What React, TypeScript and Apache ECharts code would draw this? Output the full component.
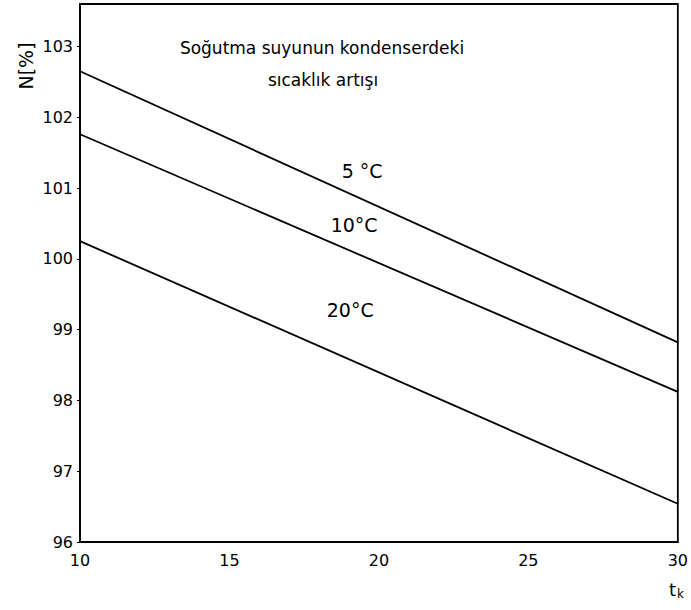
import React, { useEffect, useRef } from "react";
import * as echarts from "echarts";

const xTicks = [10, 15, 20, 25, 30];
const yTicks = [96, 97, 98, 99, 100, 101, 102, 103];
const tempX = [10, 30];
const series5 = [102.65, 98.82];
const series10 = [101.76, 98.12];
const series20 = [100.25, 96.54];
const seriesNames = ["5 °C", "10°C", "20°C"];
const labelCoords = [
  [19.44, 101.24],
  [19.17, 100.48],
  [19.04, 99.28],
];
const titleLines = ["Soğutma suyunun kondenserdeki", "sıcaklık artışı"];

const FONT = "DejaVu Sans";

export default function App() {
  const ref = useRef<HTMLDivElement>(null);
  useEffect(() => {
    if (!ref.current) return;
    const chart = echarts.init(ref.current, null, { renderer: "svg" });
    const all = [series5, series10, series20];
    chart.setOption({
      animation: false,
      backgroundColor: "#fff",
      grid: {
        left: 80,
        right: 6,
        top: 4,
        bottom: 68,
        show: true,
        borderColor: "#000",
        borderWidth: 1.8,
      },
      xAxis: {
        type: "value",
        min: 10,
        max: 30,
        interval: 5,
        axisLine: { show: true, lineStyle: { color: "#000", width: 1.8 } },
        axisTick: { show: false },
        splitLine: { show: false },
        axisLabel: {
          color: "#000",
          fontFamily: FONT,
          fontSize: 16,
          margin: 10,
          formatter: (v: number) => (xTicks.includes(v) ? String(v) : ""),
        },
      },
      yAxis: {
        type: "value",
        min: 96,
        max: 103.6,
        interval: 1,
        axisLine: { show: true, lineStyle: { color: "#000", width: 1.8 } },
        axisTick: { show: true, length: 3, inside: false, lineStyle: { color: "#000" } },
        splitLine: { show: false },
        axisLabel: {
          color: "#000",
          fontFamily: FONT,
          fontSize: 16,
          margin: 7,
          showMaxLabel: false,
          formatter: (v: number) => (yTicks.includes(v) ? String(v) : ""),
        },
      },
      series: all.map((vals, i) => ({
        type: "line",
        name: seriesNames[i],
        data: tempX.map((x, j) => [x, vals[j]]),
        symbol: "none",
        lineStyle: { color: "#000", width: 1.8 },
        markPoint: {
          symbol: "circle",
          symbolSize: 0,
          data: [
            {
              coord: labelCoords[i],
              label: {
                show: true,
                formatter: seriesNames[i],
                color: "#000",
                fontFamily: FONT,
                fontSize: 19,
                position: "inside",
              },
            },
          ],
        },
      })),
      graphic: [
        {
          type: "text",
          x: 322,
          y: 48,
          style: {
            text: titleLines[0],
            fill: "#000",
            font: `17px "${FONT}"`,
            align: "center",
            verticalAlign: "middle",
          },
        },
        {
          type: "text",
          x: 323,
          y: 80,
          style: {
            text: titleLines[1],
            fill: "#000",
            font: `17px "${FONT}"`,
            align: "center",
            verticalAlign: "middle",
          },
        },
        {
          type: "text",
          x: 26,
          y: 66,
          rotation: Math.PI / 2,
          style: {
            text: "N[%]",
            fill: "#000",
            font: `19px "${FONT}"`,
            align: "center",
            verticalAlign: "middle",
          },
        },
        {
          type: "text",
          left: 669,
          top: 580,
          style: {
            text: "t{k|k}",
            fill: "#000",
            font: `18px "${FONT}"`,
            rich: { k: { fontSize: 12, padding: [10, 0, 0, 1], fontFamily: FONT } },
          },
        },
      ],
    });
    return () => chart.dispose();
  }, []);
  return (
    <div
      ref={ref}
      style={{ position: "fixed", left: 0, top: 0, width: 691, height: 610 }}
    />
  );
}
